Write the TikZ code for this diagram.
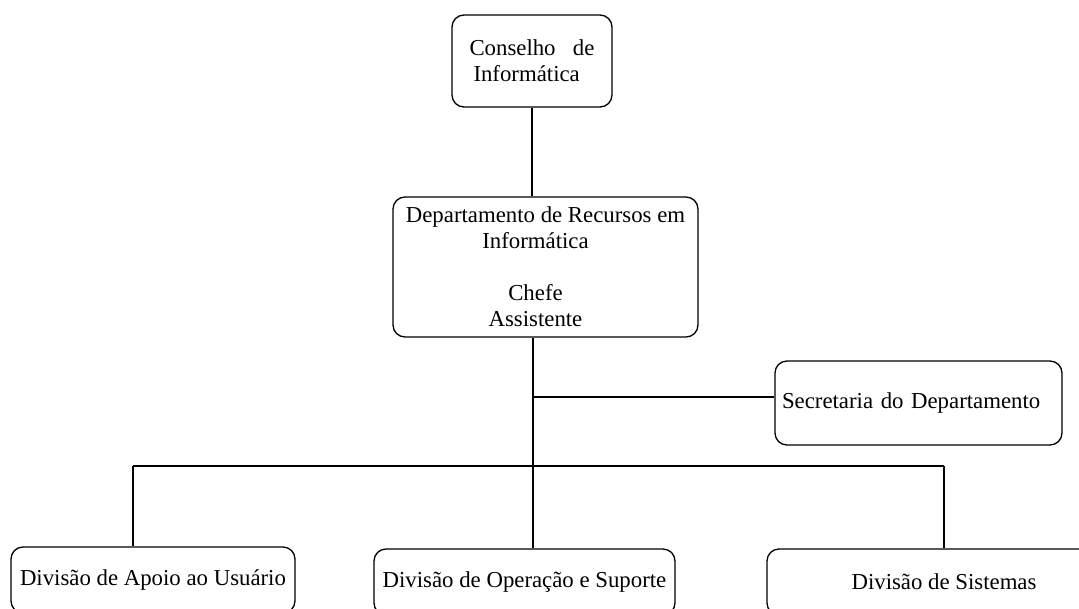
\documentclass[tikz,border=0pt]{standalone}
\usepackage{fontspec}
\setmainfont{Liberation Serif}
\begin{document}
\begin{tikzpicture}[x=1pt,y=-1pt,
  orgbox/.style={draw, line width=1.3pt, rounded corners=12pt, inner sep=0pt, anchor=center},
  conn/.style={line width=1.3pt}]
\useasboundingbox (0,0) rectangle (1079,608);
\clip (0,0) rectangle (1079,608);
\fontsize{22.8}{26}\selectfont
% boxes
\node[orgbox, minimum width=160pt, minimum height=92pt, text width=125pt, align=left]
  (cons) at (532,61) {\makebox[125pt][l]{Conselho\hfill de}\\\hspace*{4pt}Informática};
\node[orgbox, minimum width=305pt, minimum height=140pt, align=center]
  (dept) at (545.5,267) {Departamento de Recursos em\\\hspace*{-20pt}Informática\\[26pt]\hspace*{-20pt}Chefe\\\hspace*{-20pt}Assistente};
\node[orgbox, minimum width=287pt, minimum height=84pt, inner xsep=7pt, text width=273pt, align=left]
  (sec) at (918.5,403) {Secretaria do Departamento};
\node[orgbox, minimum width=284pt, minimum height=66pt] (dA) at (153,580) {Divisão de Apoio ao Usuário};
\node[orgbox, minimum width=301pt, minimum height=66pt] (dO) at (524.5,582) {Divisão de Operação e Suporte};
\node[orgbox, minimum width=354pt, minimum height=66pt] (dS) at (944,582) {Divisão de Sistemas};
% junction coordinates
\coordinate (br1) at (533,397);
\coordinate (jc) at (533,466);
\coordinate (bl) at (133,466);
\coordinate (bR) at (944,466);
% connectors
\draw[conn] (cons.south) -- (cons.south |- dept.north);
\draw[conn] (jc |- dept.south) -- (jc);
\draw[conn] (br1) -- (sec.west |- br1);
\draw[conn] (bl) -- (bR);
\draw[conn] (bl) -- (bl |- dA.north);
\draw[conn] (jc) -- (jc |- dO.north);
\draw[conn] (bR) -- (bR |- dS.north);
\end{tikzpicture}
\end{document}
